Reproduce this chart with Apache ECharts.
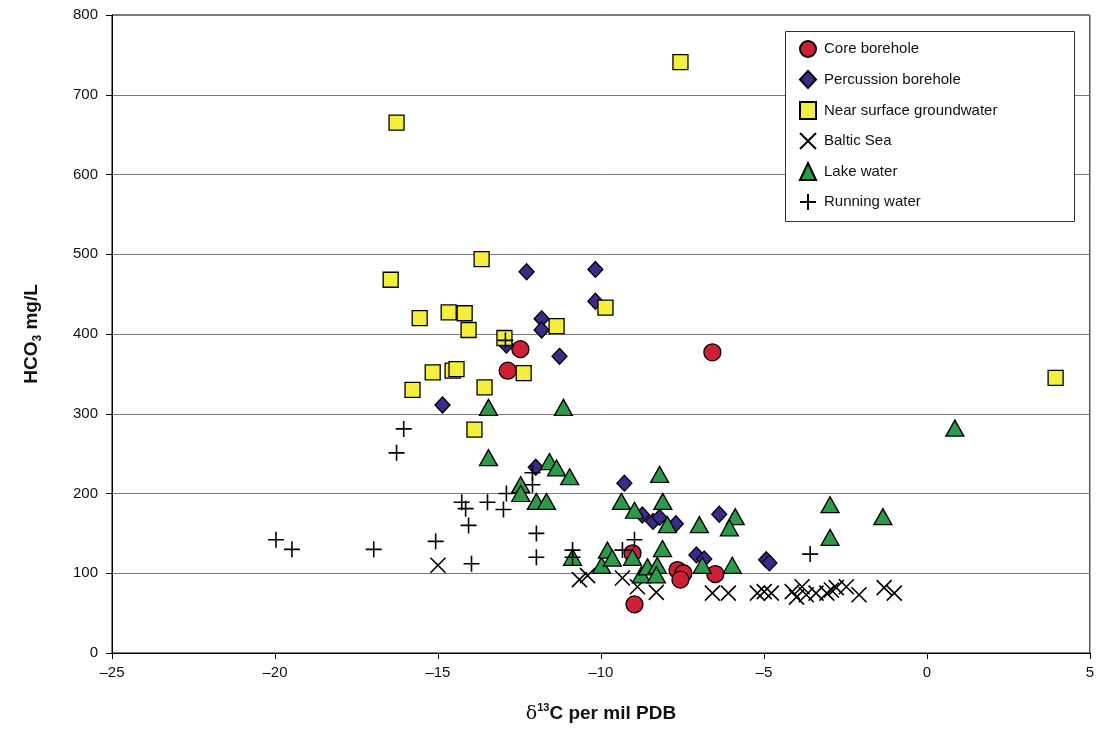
<!DOCTYPE html>
<html><head><meta charset="utf-8">
<script src="https://cdn.jsdelivr.net/npm/echarts@6/dist/echarts.min.js"></script>
<style>html,body{margin:0;padding:0;background:#fff}#c{width:1097px;height:729px}</style>
</head><body><div id="c"></div>
<script>
const seriesNames = ['Core borehole','Percussion borehole','Near surface groundwater','Baltic Sea','Lake water','Running water'];
const xTicks = [-25,-20,-15,-10,-5,0,5];
const yTicks = [0,100,200,300,400,500,600,700,800];

const coreBorehole = [[-12.47,381],[-12.86,354],[-6.58,377],[-9.03,125],[-8.97,61],[-7.65,104],[-7.47,100],[-7.56,92],[-6.49,99]];
const percussionBorehole = [[-12.28,478],[-10.17,481],[-10.17,441],[-11.82,419],[-11.82,405],[-11.27,372],[-14.86,311],[-12.9,386],[-12.0,233],[-9.28,213],[-8.73,173],[-8.4,165],[-8.2,170],[-7.7,162],[-6.37,174],[-7.07,123],[-6.83,118],[-4.93,117],[-4.83,113]];
const nearSurface = [[-7.56,741],[-16.27,665],[-16.45,468],[-13.66,494],[-15.56,420],[-14.67,427],[-14.18,426],[-14.06,405],[-12.96,395],[-11.36,410],[-9.86,433],[-15.16,352],[-14.55,354],[-14.43,356],[-15.78,330],[-13.57,333],[-12.37,351],[-13.88,280],[3.95,345]];
const balticSea = [[-15.0,110],[-10.66,92],[-10.41,97],[-9.34,94],[-8.88,83],[-8.3,76],[-6.58,75],[-6.09,75],[-5.2,75],[-4.99,77],[-4.77,75],[-4.13,77],[-4.0,70],[-3.83,83],[-3.7,73],[-3.4,75],[-3.07,75],[-2.93,79],[-2.78,82],[-2.47,83],[-2.08,73],[-1.31,82],[-1.0,75]];
const lakeWater = [[0.86,282],[-13.45,308],[-11.15,308],[-13.45,245],[-11.58,240],[-11.36,232],[-10.96,221],[-12.46,211],[-12.46,200],[-11.98,190],[-11.67,190],[-9.37,190],[-8.97,179],[-8.2,224],[-8.1,190],[-7.96,161],[-6.98,161],[-5.88,171],[-6.06,157],[-10.87,120],[-9.98,110],[-9.8,129],[-9.65,119],[-9.03,120],[-8.76,98],[-8.57,108],[-8.27,110],[-8.11,131],[-8.3,98],[-6.89,110],[-5.97,110],[-2.97,186],[-1.35,171],[-2.97,145]];
const runningWater = [[-19.97,142],[-19.48,130],[-16.97,130],[-16.27,251],[-16.05,281],[-15.07,140],[-14.27,189],[-14.15,181],[-14.06,160],[-13.97,112],[-13.48,189],[-12.99,180],[-12.9,200],[-12.1,226],[-12.1,211],[-11.98,150],[-11.98,120],[-10.87,129],[-10.87,120],[-9.34,129],[-8.97,142],[-12.93,392],[-3.58,124]];

const FONT = '"Liberation Sans", Arial, sans-serif';
const X_PATH = 'path://M0,0L10,10M10,0L0,10';
const PLUS_PATH = 'path://M5,0L5,10M0,5L10,5';

function fmt(v){ return String(v).replace('-', '\u2013'); }

const chart = echarts.init(document.getElementById('c'), null, {renderer:'canvas'});
const border = {borderColor:'#000', borderWidth:1.3};
chart.setOption({
  animation:false,
  backgroundColor:'#fff',
  textStyle:{fontFamily:FONT},
  grid:{left:112, right:6, top:15, bottom:76, show:true, borderColor:'#000', borderWidth:1, backgroundColor:'transparent'},
  graphic:[{type:'rect', left:785, top:31, z:50, shape:{width:289, height:190},
    style:{fill:'#fff', stroke:'#333', lineWidth:1}}],
  legend:{
    orient:'vertical', left:785, top:32, z:60,
    padding:[8,10,8,14], itemGap:12, itemWidth:16, itemHeight:17,
    textStyle:{fontSize:15, color:'#111', fontFamily:FONT, padding:[0,0,0,3]},
    data:seriesNames
  },
  xAxis:{
    type:'value', min:xTicks[0], max:xTicks[xTicks.length-1], interval:5,
    name:'{d|\u03B4}{s|13}{b|C per mil PDB}', nameLocation:'middle', nameGap:49,
    nameTextStyle:{rich:{
      d:{fontSize:19, fontWeight:'normal', color:'#111', fontFamily:'"DejaVu Serif", serif', lineHeight:24},
      s:{fontSize:11, fontWeight:'bold', color:'#111', verticalAlign:'top', lineHeight:12},
      b:{fontSize:19, fontWeight:'bold', color:'#111', lineHeight:24}
    }},
    axisLine:{onZero:false, lineStyle:{color:'#000', width:1}},
    axisTick:{show:true, inside:false, length:6, lineStyle:{color:'#000'}},
    axisLabel:{fontSize:15, color:'#111', margin:12, formatter:fmt},
    splitLine:{show:false}
  },
  yAxis:{
    type:'value', min:yTicks[0], max:yTicks[yTicks.length-1], interval:100,
    name:'{b|HCO}{s|3}{b| mg/L}', nameLocation:'middle', nameGap:68, nameRotate:90,
    nameTextStyle:{rich:{
      b:{fontSize:19, fontWeight:'bold', color:'#111', lineHeight:24},
      s:{fontSize:12, fontWeight:'bold', color:'#111', verticalAlign:'bottom', lineHeight:12}
    }},
    axisLine:{show:true, onZero:false, lineStyle:{color:'#000', width:1}},
    axisTick:{show:true, inside:false, length:6, lineStyle:{color:'#000'}},
    axisLabel:{fontSize:15, color:'#111', margin:14},
    splitLine:{show:true, lineStyle:{color:'#777', width:1}}
  },
  series:[
    {name:seriesNames[0], type:'scatter', data:coreBorehole, symbol:'circle', symbolSize:17,
      itemStyle:Object.assign({color:'#cf1f36', opacity:1}, border)},
    {name:seriesNames[1], type:'scatter', data:percussionBorehole, symbol:'diamond', symbolSize:[15,16],
      itemStyle:Object.assign({color:'#3b2a8a', opacity:1}, border)},
    {name:seriesNames[2], type:'scatter', data:nearSurface, symbol:'rect', symbolSize:15,
      itemStyle:Object.assign({color:'#f3ef3a', opacity:1}, border)},
    {name:seriesNames[3], type:'scatter', data:balticSea, symbol:X_PATH, symbolSize:15,
      itemStyle:{color:'#000', borderColor:'#000', borderWidth:1.6, opacity:1}},
    {name:seriesNames[4], type:'scatter', data:lakeWater, symbol:'triangle', symbolSize:[18,16],
      itemStyle:Object.assign({color:'#2c9a48', opacity:1}, border)},
    {name:seriesNames[5], type:'scatter', data:runningWater, symbol:PLUS_PATH, symbolSize:16,
      itemStyle:{color:'#000', borderColor:'#000', borderWidth:1.6, opacity:1}}
  ]
});
</script></body></html>
